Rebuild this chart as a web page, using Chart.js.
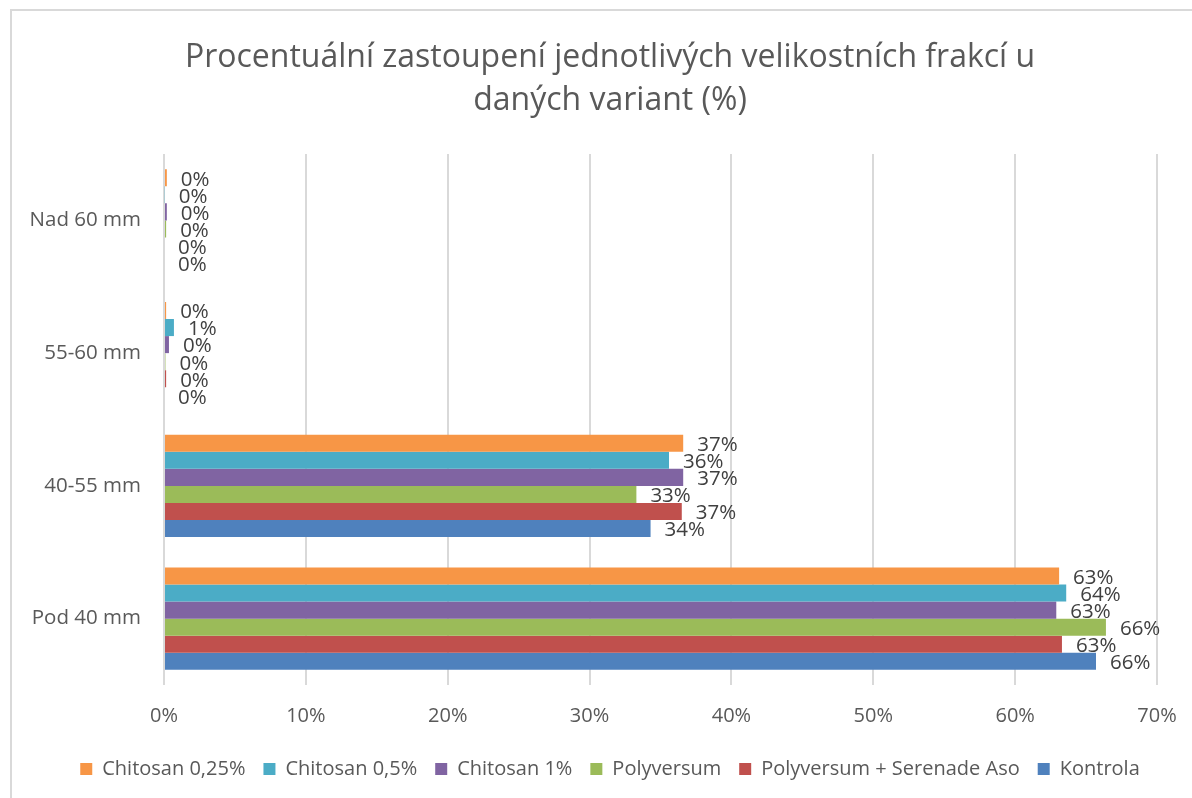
<!DOCTYPE html>
<html><head><meta charset="utf-8">
<script src="https://cdn.jsdelivr.net/npm/chart.js@4/dist/chart.umd.min.js"></script>
<style>
html,body{margin:0;padding:0;background:#fff;width:1192px;height:798px;overflow:hidden;}
#frame{position:absolute;left:10px;top:9px;width:1220px;height:820px;border:2px solid #d9d9d9;box-sizing:border-box;}
#wrap{position:absolute;left:0;top:0;width:1220px;height:798px;}
</style></head><body>
<div id="frame"></div>
<div id="wrap"><canvas id="c" width="1220" height="798"></canvas></div>
<script>
const categories = ['Nad 60 mm', '55-60 mm', '40-55 mm', 'Pod 40 mm'];
const seriesNames = ['Chitosan 0,25%', 'Chitosan 0,5%', 'Chitosan 1%', 'Polyversum', 'Polyversum + Serenade Aso', 'Kontrola'];
const chitosan025 = [0.2, 0.15, 36.6, 63.1];
const chitosan05 = [0.05, 0.7, 35.6, 63.6];
const chitosan1 = [0.2, 0.35, 36.6, 62.9];
const polyversum = [0.15, 0.1, 33.3, 66.4];
const polySerenade = [0.0, 0.15, 36.5, 63.3];
const kontrola = [0.0, 0.0, 34.3, 65.7];
const xTicks = [0, 10, 20, 30, 40, 50, 60, 70];
const colors = ['#F79646', '#4BACC6', '#8064A2', '#9BBB59', '#C0504D', '#4F81BD'];
const seriesValues = [chitosan025, chitosan05, chitosan1, polyversum, polySerenade, kontrola];

const FONT = '"Open Sans", sans-serif';
const labelPlugin = {
  id: 'barLabels',
  afterDatasetsDraw(chart) {
    const ctx = chart.ctx;
    ctx.save();
    ctx.font = '20.5px ' + FONT;
    ctx.fillStyle = '#404040';
    ctx.textBaseline = 'middle';
    ctx.textAlign = 'left';
    chart.data.datasets.forEach((ds, i) => {
      const meta = chart.getDatasetMeta(i);
      meta.data.forEach((bar, j) => {
        ctx.fillText(Math.round(ds.data[j]) + '%', bar.x + 14, bar.y + 2);
      });
    });
    ctx.restore();
  }
};

new Chart(document.getElementById('c'), {
  type: 'bar',
  data: {
    labels: categories,
    datasets: seriesNames.map((n, i) => ({
      label: n,
      data: seriesValues[i],
      backgroundColor: colors[i],
      borderWidth: 0,
      barPercentage: 1.0,
      categoryPercentage: 0.771
    }))
  },
  options: {
    indexAxis: 'y',
    responsive: false,
    animation: false,
    layout: { padding: { left: 0, right: 0, top: 0, bottom: 9 } },
    plugins: {
      title: {
        display: true,
        text: ['Procentuální zastoupení jednotlivých velikostních frakcí u', 'daných variant (%)'],
        color: '#595959',
        font: { family: FONT, size: 32, weight: 'normal', lineHeight: 1.344 },
        padding: { top: 36, bottom: 32 }
      },
      legend: {
        position: 'bottom',
        labels: {
          color: '#595959',
          font: { family: FONT, size: 20 },
          boxWidth: 12, boxHeight: 12,
          padding: 18
        }
      },
      tooltip: { enabled: false }
    },
    scales: {
      x: {
        min: 0, max: 70,
        afterBuildTicks(scale) { scale.ticks = xTicks.map(v => ({ value: v })); },
        ticks: { color: '#595959', font: { family: FONT, size: 20 }, padding: 19, callback: v => v + '%' },
        grid: { color: '#d9d9d9', lineWidth: 2, drawTicks: false },
        border: { display: false },
        afterFit(scale) { scale.height = 56; }
      },
      y: {
        ticks: { color: '#595959', font: { family: FONT, size: 20.5 }, padding: 23 },
        grid: { display: false, drawTicks: false },
        border: { display: false },
        afterFit(scale) { scale.width = 164; }
      },
      spacer: {
        type: 'linear',
        position: 'right',
        axis: 'y',
        ticks: { display: false },
        grid: { display: false, drawTicks: false },
        border: { display: false },
        afterFit(scale) { scale.width = 63; }
      }
    }
  },
  plugins: [labelPlugin]
});
</script>
</body></html>
